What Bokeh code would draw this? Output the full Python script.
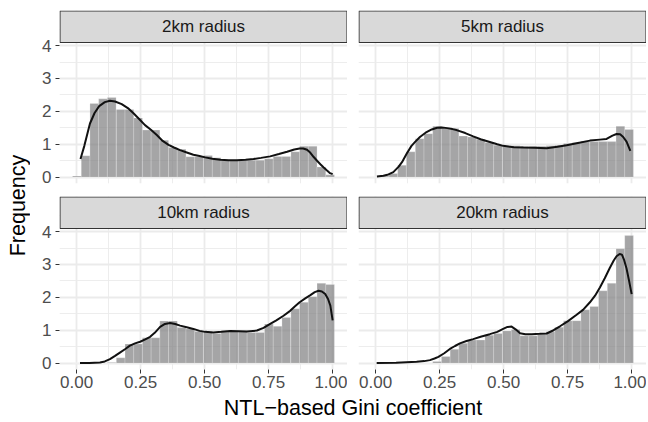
import math
from bokeh.plotting import figure
from bokeh.layouts import row, column
from bokeh.models import Range1d, FixedTicker, Spacer, NumeralTickFormatter
from bokeh.core.properties import value
from bokeh.embed import file_html
from bokeh.resources import INLINE

# ---------------- data ----------------
panel_titles = ["2km radius", "5km radius", "10km radius", "20km radius"]

bin_centers = [0.001, 0.035, 0.069, 0.103, 0.137, 0.172, 0.206, 0.240, 0.274, 0.308,
               0.342, 0.376, 0.410, 0.444, 0.478, 0.513, 0.547, 0.581, 0.615, 0.649,
               0.683, 0.717, 0.751, 0.785, 0.819, 0.854, 0.888, 0.922, 0.956, 0.990]
bin_width = 0.0341

hist_2km = [0.03, 0.65, 2.24, 2.38, 2.42, 2.06, 2.06, 1.80, 1.43, 1.43,
            1.12, 0.90, 0.85, 0.62, 0.62, 0.66, 0.59, 0.51, 0.51, 0.51,
            0.51, 0.51, 0.56, 0.63, 0.63, 0.77, 0.94, 0.94, 0.31, 0.07]
hist_5km = [0.00, 0.03, 0.11, 0.36, 0.77, 1.17, 1.32, 1.55, 1.48, 1.48,
            1.25, 1.22, 1.15, 1.05, 0.97, 0.95, 0.95, 0.94, 0.94, 0.94,
            0.95, 0.97, 1.02, 1.05, 1.08, 1.08, 1.08, 1.08, 1.55, 1.45]
hist_10km = [0.00, 0.00, 0.00, 0.00, 0.02, 0.16, 0.58, 0.58, 0.77, 0.77,
             1.28, 1.28, 1.08, 1.04, 0.96, 0.96, 0.90, 0.96, 0.97, 0.96,
             0.93, 0.93, 1.19, 1.12, 1.39, 1.65, 1.85, 2.02, 2.43, 2.39]
hist_20km = [0.00, 0.00, 0.00, 0.00, 0.00, 0.00, 0.00, 0.05, 0.20, 0.42,
             0.60, 0.70, 0.70, 0.85, 0.90, 0.98, 1.02, 0.83, 0.83, 0.88,
             0.95, 1.09, 1.29, 1.29, 1.62, 1.72, 2.20, 2.43, 3.48, 3.88]

dens_2km_x = [0.015, 0.03, 0.052, 0.07, 0.088, 0.11, 0.13, 0.15, 0.176, 0.2,
              0.222, 0.245, 0.267, 0.29, 0.313, 0.336, 0.359, 0.38, 0.404, 0.43,
              0.456, 0.48, 0.502, 0.53, 0.561, 0.594, 0.626, 0.66, 0.691, 0.72,
              0.756, 0.79, 0.822, 0.85, 0.871, 0.885, 0.9, 0.913, 0.926, 0.94,
              0.952, 0.965, 0.978, 0.99, 1.0]
dens_2km_y = [0.55, 0.95, 1.63, 1.95, 2.16, 2.28, 2.32, 2.30, 2.22, 2.10,
              1.94, 1.76, 1.58, 1.44, 1.28, 1.10, 0.98, 0.90, 0.82, 0.75,
              0.68, 0.64, 0.60, 0.56, 0.53, 0.515, 0.51, 0.525, 0.55, 0.585,
              0.63, 0.70, 0.77, 0.84, 0.87, 0.87, 0.83, 0.74, 0.61, 0.49,
              0.39, 0.29, 0.20, 0.12, 0.09]

dens_5km_x = [0.005, 0.03, 0.05, 0.069, 0.09, 0.105, 0.121, 0.14, 0.155, 0.173,
              0.195, 0.219, 0.24, 0.258, 0.28, 0.3, 0.316, 0.35, 0.381, 0.41,
              0.446, 0.475, 0.498, 0.54, 0.577, 0.62, 0.668, 0.71, 0.746, 0.79,
              0.837, 0.876, 0.902, 0.925, 0.941, 0.955, 0.967, 0.98, 0.995]
dens_5km_y = [0.02, 0.04, 0.08, 0.15, 0.32, 0.48, 0.71, 0.95, 1.08, 1.22,
              1.35, 1.45, 1.50, 1.51, 1.49, 1.46, 1.43, 1.34, 1.24, 1.15,
              1.07, 1.00, 0.95, 0.91, 0.90, 0.89, 0.88, 0.92, 0.97, 1.04,
              1.11, 1.14, 1.16, 1.26, 1.31, 1.30, 1.22, 1.08, 0.80]

dens_10km_x = [0.013, 0.05, 0.091, 0.11, 0.13, 0.15, 0.169, 0.19, 0.208, 0.228,
               0.248, 0.268, 0.287, 0.305, 0.326, 0.345, 0.365, 0.385, 0.404, 0.43,
               0.456, 0.48, 0.502, 0.534, 0.565, 0.6, 0.635, 0.665, 0.704, 0.73,
               0.756, 0.78, 0.808, 0.834, 0.852, 0.871, 0.893, 0.913, 0.93, 0.945,
               0.958, 0.971, 0.982, 0.991, 1.0]
dens_10km_y = [0.00, 0.005, 0.02, 0.05, 0.12, 0.22, 0.32, 0.43, 0.53, 0.60,
               0.65, 0.72, 0.80, 0.92, 1.10, 1.19, 1.22, 1.19, 1.14, 1.09,
               1.04, 0.98, 0.95, 0.93, 0.95, 0.98, 0.97, 0.96, 0.99, 1.07,
               1.19, 1.30, 1.44, 1.59, 1.72, 1.85, 1.97, 2.07, 2.16, 2.20,
               2.18, 2.10, 1.95, 1.75, 1.30]

dens_20km_x = [0.004, 0.08, 0.16, 0.19, 0.212, 0.23, 0.245, 0.268, 0.29, 0.31,
               0.329, 0.355, 0.381, 0.41, 0.446, 0.475, 0.498, 0.515, 0.531, 0.548,
               0.564, 0.585, 0.61, 0.64, 0.668, 0.695, 0.72, 0.75, 0.785, 0.81,
               0.837, 0.857, 0.876, 0.895, 0.915, 0.93, 0.941, 0.953, 0.962, 0.97,
               0.98, 0.99, 1.0]
dens_20km_y = [0.00, 0.01, 0.04, 0.06, 0.09, 0.14, 0.19, 0.30, 0.43, 0.52,
               0.60, 0.67, 0.73, 0.80, 0.88, 0.95, 1.04, 1.10, 1.11, 1.02,
               0.91, 0.88, 0.88, 0.89, 0.90, 1.00, 1.12, 1.27, 1.47, 1.62,
               1.85, 2.05, 2.30, 2.58, 2.90, 3.12, 3.25, 3.32, 3.30, 3.15,
               2.88, 2.50, 2.10]

x_ticks = [0.0, 0.25, 0.5, 0.75, 1.0]
x_minor = [0.125, 0.375, 0.625, 0.875]
y_ticks = [0, 1, 2, 3, 4]
y_minor = [0.5, 1.5, 2.5, 3.5, 4.5]

x_title = "NTL\u2212based Gini coefficient"
y_title = "Frequency"

# ---------------- layout constants ----------------
FONT = "Liberation Sans"
SMALL = "17px"
BIG = "21.5px"
XMIN, XMAX = -0.067, 1.058
YMIN, YMAX = -0.195, 4.095
PANEL_W, PANEL_H, STRIP_H = 288, 141, 32
LEFT_LAB_W = 30
AXIS_LEFT = 29
GAP_X = 11
BOTTOM_AXIS = 26
Y_UNIT = PANEL_H / (YMAX - YMIN)
X_UNIT = PANEL_W / (XMAX - XMIN)
YTOP = YMAX + STRIP_H / Y_UNIT
GRID_COL = "#EBEBEB"


def make_panel(title, heights, dx, dy, show_x, show_y, top_row):
    mb_left = AXIS_LEFT if show_y else 0
    mb_top = 10 if top_row else 6
    mb_bottom = BOTTOM_AXIS if show_x else 7
    p = figure(width=PANEL_W + mb_left, height=mb_top + STRIP_H + PANEL_H + mb_bottom,
               x_range=Range1d(XMIN, XMAX), y_range=Range1d(YMIN, YTOP),
               x_axis_location="below" if show_x else None,
               y_axis_location="left" if show_y else None,
               output_backend="svg", toolbar_location=None,
               min_border_left=mb_left, min_border_right=0,
               min_border_top=mb_top, min_border_bottom=mb_bottom)
    p.outline_line_color = None
    p.background_fill_color = "white"
    p.border_fill_color = "white"

    p.xgrid.ticker = FixedTicker(ticks=x_ticks, minor_ticks=x_minor)
    p.ygrid.ticker = FixedTicker(ticks=y_ticks, minor_ticks=y_minor)
    for g in (p.xgrid, p.ygrid):
        g.grid_line_color = GRID_COL
        g.grid_line_width = 1.8
        g.minor_grid_line_color = GRID_COL
        g.minor_grid_line_width = 0.9

    p.vbar(x=bin_centers, top=heights, bottom=0, width=bin_width,
           fill_color="#7F7F80", fill_alpha=0.7,
           line_color="white", line_alpha=0.35, line_width=0.6)
    p.line(dx, dy, line_color="#111111", line_width=2.0)

    # facet strip
    p.quad(left=[XMIN + 0.5 / X_UNIT], right=[XMAX - 0.5 / X_UNIT],
           bottom=[YMAX], top=[YTOP - 0.5 / Y_UNIT],
           fill_color="#D9D9D9", line_color="#333333", line_width=1.1)
    p.text(x=[(XMIN + XMAX) / 2], y=[(YMAX + YTOP) / 2], text=[title],
           text_align="center", text_baseline="middle",
           text_font=value(FONT), text_font_size=SMALL, text_color="#1A1A1A")

    axes = []
    if show_x:
        p.xaxis.ticker = FixedTicker(ticks=x_ticks)
        p.xaxis.formatter = NumeralTickFormatter(format="0.00")
        p.xaxis.major_label_standoff = 2
        axes.append(p.xaxis)
    if show_y:
        p.yaxis.ticker = FixedTicker(ticks=y_ticks)
        p.yaxis.major_label_standoff = 4
        axes.append(p.yaxis)
    for ax in axes:
        ax.axis_line_color = None
        ax.major_tick_line_color = "#333333"
        ax.major_tick_line_width = 1
        ax.major_tick_out = 4
        ax.major_tick_in = 0
        ax.minor_tick_line_color = None
        ax.major_label_text_font = FONT
        ax.major_label_text_font_size = SMALL
        ax.major_label_text_color = "#4D4D4D"
    return p


p_tl = make_panel(panel_titles[0], hist_2km, dens_2km_x, dens_2km_y, False, True, True)
p_tr = make_panel(panel_titles[1], hist_5km, dens_5km_x, dens_5km_y, False, False, True)
p_bl = make_panel(panel_titles[2], hist_10km, dens_10km_x, dens_10km_y, True, True, False)
p_br = make_panel(panel_titles[3], hist_20km, dens_20km_x, dens_20km_y, True, False, False)

top_h = p_tl.height
bot_h = p_bl.height
TOTAL_H = 422
RIGHT_W = AXIS_LEFT + PANEL_W + GAP_X + PANEL_W
bottom_lab_h = TOTAL_H - top_h - bot_h


def label_fig(w, h):
    f = figure(width=w, height=h, x_range=Range1d(0, w), y_range=Range1d(0, h),
               x_axis_location=None, y_axis_location=None,
               output_backend="svg", toolbar_location=None, min_border=0)
    f.outline_line_color = None
    f.grid.visible = False
    f.border_fill_color = "white"
    f.background_fill_color = "white"
    return f


lab_left = label_fig(LEFT_LAB_W, TOTAL_H)
lab_left.text(x=[17], y=[TOTAL_H - 205], text=[y_title], angle=math.pi / 2,
              text_align="center", text_baseline="middle",
              text_font=value(FONT), text_font_size=BIG, text_color="black")

lab_bottom = label_fig(RIGHT_W, bottom_lab_h)
lab_bottom.text(x=[AXIS_LEFT + (PANEL_W * 2 + GAP_X) / 2], y=[15],
                text=[x_title], text_align="center", text_baseline="middle",
                text_font=value(FONT), text_font_size=BIG, text_color="black")

layout = row(
    lab_left,
    column(
        row(p_tl, Spacer(width=GAP_X, height=top_h), p_tr),
        row(p_bl, Spacer(width=GAP_X, height=bot_h), p_br),
        lab_bottom,
    ),
)

open("out.html", "w").write(file_html(layout, INLINE))
